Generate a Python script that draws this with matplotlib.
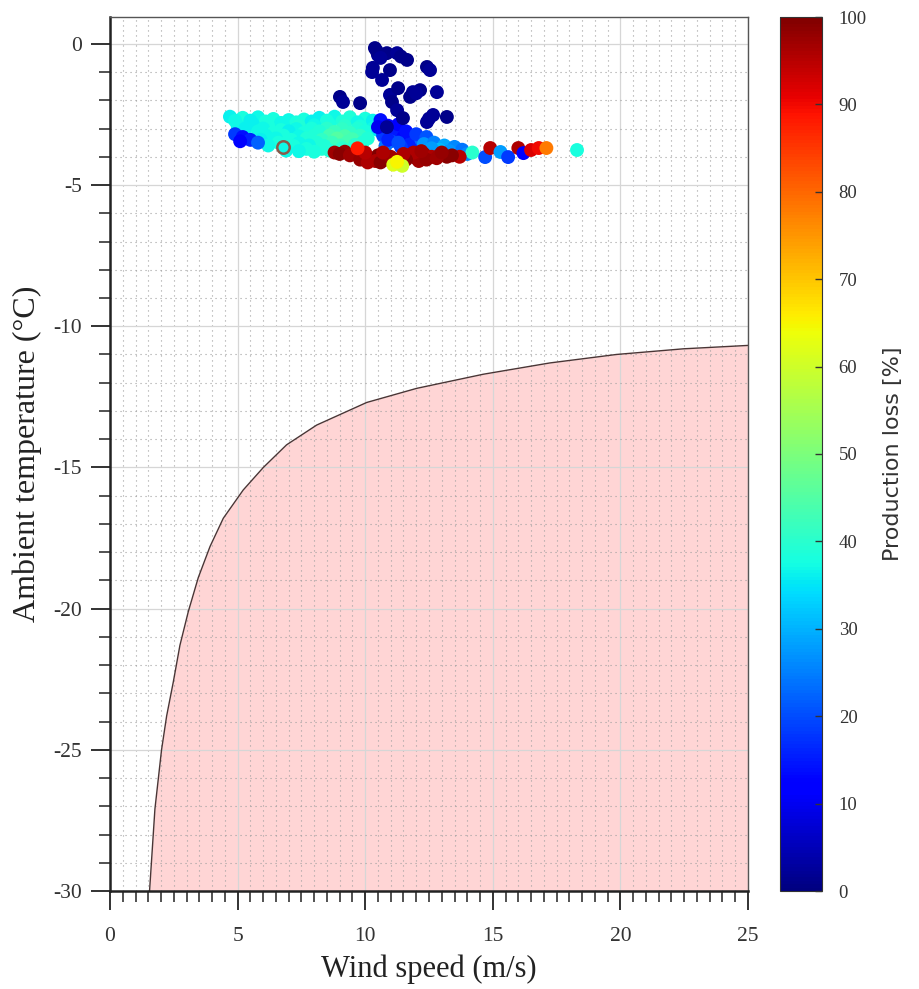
import matplotlib
matplotlib.use("Agg")
import matplotlib.pyplot as plt
import numpy as np
from matplotlib.ticker import MultipleLocator

plt.rcParams['axes.unicode_minus'] = False
plt.rcParams['font.family'] = ['Liberation Serif', 'DejaVu Serif']

# ---- boundary curve ----
boundary_speed = [1.55, 1.76, 2.02, 2.22, 2.48, 2.74, 3.07, 3.46, 3.92, 4.44, 5.22,
                  6.01, 6.92, 8.10, 10.06, 12.02, 14.63, 17.24, 19.85, 22.47, 25.0]
boundary_temp = [-30.0, -27.1, -25.0, -23.8, -22.6, -21.3, -20.1, -18.9, -17.8, -16.8, -15.8,
                 -15.0, -14.2, -13.5, -12.7, -12.2, -11.7, -11.3, -11.0, -10.8, -10.68]

# ---- scatter groups: (wind speed, temperature, production loss) ----
cyan_band = [
    (4.7, -2.58, 36), (5.2, -2.62, 38), (5.8, -2.60, 37), (6.4, -2.66, 38), (7.0, -2.70, 37),
    (7.6, -2.68, 38), (8.2, -2.62, 36), (8.8, -2.58, 37), (9.4, -2.60, 39), (10.0, -2.65, 38),
    (4.9, -2.72, 37), (5.5, -2.72, 36), (6.1, -2.75, 38), (6.7, -2.80, 37), (7.3, -2.78, 38),
    (7.9, -2.75, 36), (8.5, -2.72, 38), (9.1, -2.75, 39), (9.7, -2.78, 37), (10.3, -2.72, 36),
    (5.0, -2.90, 37), (5.6, -2.85, 36), (6.2, -2.90, 38), (6.8, -2.95, 37), (7.4, -2.90, 39),
    (8.0, -2.88, 37), (8.6, -2.85, 38), (9.2, -2.90, 40), (9.8, -2.92, 38), (10.4, -2.85, 36),
    (5.3, -3.00, 36), (6.0, -3.00, 37), (6.7, -3.05, 38), (7.3, -3.02, 37), (7.9, -3.00, 38),
    (8.5, -3.00, 40), (9.1, -3.02, 41), (9.7, -3.00, 39), (10.3, -3.00, 37),
    (5.8, -3.10, 37), (6.4, -3.15, 38), (7.0, -3.10, 36), (7.6, -3.15, 38), (8.2, -3.10, 39),
    (8.8, -3.12, 42), (9.4, -3.15, 41), (10.0, -3.10, 38), (10.5, -3.05, 35),
    (6.1, -3.25, 37), (6.8, -3.25, 38), (7.4, -3.28, 37), (8.0, -3.25, 39), (8.6, -3.25, 43),
    (9.2, -3.27, 44), (9.8, -3.25, 41),
    (5.9, -3.40, 36), (6.5, -3.35, 37), (7.1, -3.40, 38), (7.7, -3.35, 39), (8.3, -3.40, 41),
    (8.9, -3.35, 45), (9.5, -3.38, 43), (10.1, -3.35, 39),
    (6.6, -3.50, 38), (7.4, -3.52, 37), (8.1, -3.50, 39), (8.7, -3.50, 42), (9.3, -3.48, 43),
    (9.9, -3.50, 39),
    (6.2, -3.60, 37), (7.2, -3.62, 38), (7.8, -3.60, 37), (8.4, -3.62, 39), (9.0, -3.60, 42),
    (9.6, -3.58, 40), (6.9, -3.78, 37), (7.7, -3.72, 38), (8.3, -3.72, 39), (9.1, -3.70, 40),
    (7.4, -3.80, 37), (8.0, -3.82, 38), (8.6, -3.78, 39),
]
blue_left = [
    (4.9, -3.20, 18), (5.2, -3.30, 14), (5.5, -3.40, 16), (5.1, -3.45, 12), (5.8, -3.50, 22),
]
blue_mid = [
    (10.6, -2.70, 14), (10.9, -2.90, 12), (11.2, -3.10, 15), (10.7, -3.25, 18), (11.5, -3.30, 13),
    (11.0, -3.45, 20), (11.8, -3.50, 16), (12.2, -3.40, 22), (10.8, -3.60, 24), (11.4, -3.65, 18),
    (10.5, -2.95, 10), (11.3, -2.85, 12), (10.9, -3.40, 16), (11.6, -3.10, 14), (12.0, -3.20, 18),
    (11.3, -3.50, 20), (12.4, -3.30, 21),
]
light_blue = [
    (12.3, -3.55, 27), (12.7, -3.50, 25), (13.1, -3.60, 29), (13.5, -3.65, 26), (12.9, -3.75, 31),
    (13.8, -3.75, 24), (12.6, -3.70, 28), (13.3, -3.80, 27), (14.0, -3.90, 26), (14.2, -3.85, 40),
]
dark_red = [
    (8.8, -3.85, 97), (9.2, -3.82, 98), (9.6, -3.90, 96), (9.9, -4.00, 99), (10.2, -4.05, 97),
    (10.5, -3.95, 100), (10.8, -4.10, 98), (10.4, -4.15, 96), (11.7, -3.95, 97), (12.0, -4.05, 99),
    (12.3, -3.90, 98), (12.6, -4.00, 96), (12.9, -3.95, 97), (13.2, -4.00, 99), (13.7, -4.00, 95),
    (11.4, -4.05, 98), (12.1, -4.15, 97), (11.9, -3.85, 96),
    (9.0, -3.90, 99), (9.4, -3.95, 97), (9.8, -4.10, 98), (10.1, -4.20, 96), (10.6, -4.20, 99),
    (11.0, -4.00, 97), (11.6, -4.10, 99), (12.4, -4.10, 98), (12.8, -4.05, 97), (13.4, -3.95, 99),
    (10.0, -3.85, 95), (10.7, -3.85, 96), (12.2, -3.80, 97), (11.5, -3.90, 96), (13.0, -3.85, 98),
]
yellow_red = [
    (9.7, -3.70, 88), (11.1, -4.28, 62), (11.45, -4.32, 60), (11.25, -4.18, 65),
]
right_tail = [
    (14.7, -4.01, 20), (14.9, -3.69, 95), (15.3, -3.83, 28), (15.6, -4.01, 18), (16.0, -3.69, 96),
    (16.2, -3.87, 12), (16.5, -3.76, 92), (16.8, -3.69, 90), (17.1, -3.69, 78), (18.3, -3.76, 38),
]
navy_cluster = [
    (10.38, -0.15, 1), (10.50, -0.40, 2), (10.85, -0.33, 1), (11.25, -0.33, 2), (11.64, -0.57, 1),
    (10.27, -1.00, 2), (10.97, -0.93, 1), (10.66, -1.28, 2), (12.42, -0.82, 1), (12.54, -0.93, 2),
    (9.01, -1.88, 1), (9.13, -2.06, 2), (9.80, -2.10, 1), (10.97, -1.81, 2), (11.29, -1.57, 1),
    (11.87, -1.71, 2), (12.15, -1.64, 1), (12.81, -1.71, 2), (11.05, -2.06, 1), (11.25, -2.35, 2),
    (11.76, -1.88, 1), (12.66, -2.52, 2), (13.20, -2.59, 1), (12.42, -2.77, 2), (11.48, -2.63, 1),
    (10.85, -2.95, 2),
    (10.45, -0.25, 1), (10.60, -0.50, 2), (11.40, -0.45, 1), (10.30, -0.85, 2),
    (12.00, -1.75, 2), (12.50, -2.65, 2),
]
ringed_point = [(6.78, -3.65, 37)]

groups = [cyan_band, blue_left, blue_mid, light_blue, dark_red, yellow_red, right_tail, navy_cluster]
pts = [p for g in groups for p in g]
wind = [p[0] for p in pts]
temp = [p[1] for p in pts]
loss = [p[2] for p in pts]

fig = plt.figure(figsize=(9.19, 9.89), dpi=100)
ax = fig.add_axes([110/919, 98/989, 638/919, 874/989])
cax = fig.add_axes([780/919, 98/989, 42/919, 874/989])

ax.fill_between(boundary_speed, boundary_temp, -30, color='#ffd5d5', zorder=0.5, linewidth=0)
ax.plot(boundary_speed, boundary_temp, color='#4a3535', lw=1.0, zorder=2)

sc = ax.scatter(wind, temp, c=loss, cmap='jet', vmin=0, vmax=100, s=100,
                edgecolors='none', zorder=3)
rc = ax.scatter([p[0] for p in ringed_point], [p[1] for p in ringed_point],
                c=[p[2] for p in ringed_point], cmap='jet', vmin=0, vmax=100, s=80,
                edgecolors='#8a5a4a', linewidths=1.8, zorder=4)

ax.set_xlim(0, 25)
ax.set_ylim(-30, 0.95)
ax.xaxis.set_major_locator(MultipleLocator(5))
ax.xaxis.set_minor_locator(MultipleLocator(0.5))
ax.yaxis.set_major_locator(MultipleLocator(5))
ax.yaxis.set_minor_locator(MultipleLocator(1))

ax.grid(which='major', color='#d6d6d6', lw=0.9, ls='-')
ax.grid(which='minor', color='#a0a0a0', lw=0.8, ls=(0, (1, 3.5)))

ax.tick_params(which='major', direction='out', length=14, width=1.3, labelsize=15.5,
               colors='#222222')
ax.tick_params(axis='x', which='major', pad=12)
ax.tick_params(axis='y', which='major', pad=6)
ax.tick_params(which='minor', direction='out', length=8, width=1.1, colors='#222222')
for lab in ax.get_xticklabels() + ax.get_yticklabels():
    lab.set_color('#333333')

for side in ['left', 'bottom']:
    ax.spines[side].set_linewidth(1.8)
    ax.spines[side].set_color('#222222')
for side in ['top', 'right']:
    ax.spines[side].set_linewidth(1.0)
    ax.spines[side].set_color('#555555')

ax.set_xlabel('Wind speed (m/s)', fontsize=22, color='#222222', labelpad=6)
ax.set_ylabel('Ambient temperature (°C)', fontsize=23, color='#222222', labelpad=8)

cb = fig.colorbar(sc, cax=cax)
cb.set_ticks(np.arange(0, 101, 10))
cb.ax.tick_params(direction='in', length=5, width=1, labelsize=13.5, colors='#333333', pad=12)
cb.outline.set_linewidth(0.8)
cb.outline.set_edgecolor('#333333')
cb.set_label('Production loss [%]', fontsize=16, family='DejaVu Sans', color='#333333',
             labelpad=12)

fig.savefig('out.png', dpi=100)
